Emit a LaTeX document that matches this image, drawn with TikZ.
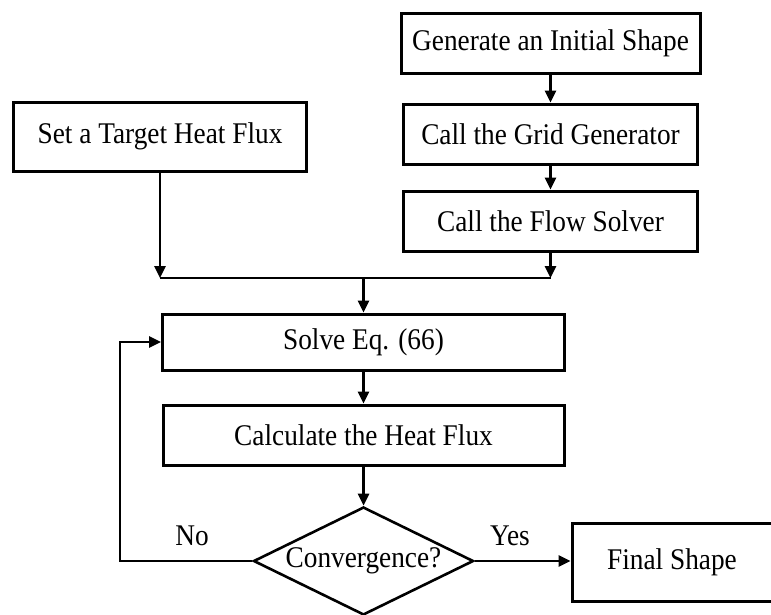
\documentclass[tikz,border=0pt]{standalone}
\usepackage{fontspec}
\usepackage{graphicx}
\setmainfont{Liberation Serif}
\usetikzlibrary{arrows.meta,shapes.geometric}
\newcommand{\tall}[1]{\scalebox{1}[1.1]{#1}}
\begin{document}
\begin{tikzpicture}[x=1pt,y=-1pt,
  every node/.style={font=\fontsize{27.3}{32}\selectfont},
  procbox/.style={draw,rectangle,line width=3pt,inner sep=0pt},
  decbox/.style={draw,diamond,line width=2.6pt,inner sep=0pt,aspect=2.04,minimum width=220pt,minimum height=108pt},
  flowarrow/.style={line width=2.6pt,-{Triangle[length=12pt,width=11pt]}},
  flowline/.style={line width=2.6pt}]
\useasboundingbox (0,0) rectangle (771,614);
\node[procbox,minimum width=299pt,minimum height=60pt] (gen) at (550.5,43) {\tall{Generate an Initial Shape}};
\node[procbox,minimum width=294pt,minimum height=60pt] (grid) at (550.5,134) {\tall{Call the Grid Generator}};
\node[procbox,minimum width=294pt,minimum height=60pt] (flow) at (550.5,221) {\tall{Call the Flow Solver}};
\node[procbox,minimum width=293pt,minimum height=69pt] (target) at (160,136.5) {\tall{Set a Target Heat Flux}};
\node[procbox,minimum width=402pt,minimum height=56pt] (solve) at (363.5,342) {\tall{Solve Eq. (66)}};
\node[procbox,minimum width=401pt,minimum height=60pt] (calc) at (363.5,435) {\tall{Calculate the Heat Flux}};
\node[decbox] (conv) at (363.5,561) {\tall{Convergence?}};
\node[procbox,minimum width=200pt,minimum height=78pt] (final) at (672,562) {\tall{Final Shape}};
\node (no) at (192,536) {\tall{No}};
\node (yes) at (510,536) {\tall{Yes}};
\coordinate (mL) at (160,278);
\coordinate (mR) at (550.5,278);
\coordinate (mC) at (363.5,278);
\coordinate (loop) at (120,561);
\draw[flowarrow] (gen) -- (grid);
\draw[flowarrow] (grid) -- (flow);
\draw[flowarrow] (target.south) -- (mL);
\draw[flowarrow] (flow.south) -- (mR);
\draw[flowline] (mL) -- (mR);
\draw[flowarrow] (mC) -- (solve.north);
\draw[flowarrow] (solve) -- (calc);
\draw[flowarrow] (calc) -- (conv);
\draw[flowarrow] (conv.east) -- (conv.east -| final.west);
\draw[flowarrow] (conv.west) -- (loop) |- (solve.west);
\end{tikzpicture}
\end{document}
